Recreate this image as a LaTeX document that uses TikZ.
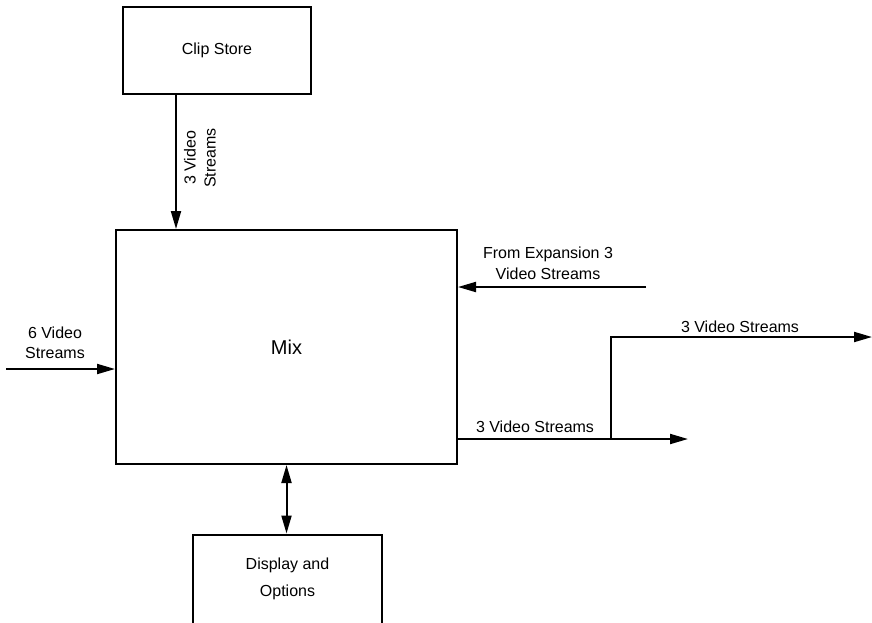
\documentclass[tikz,border=0pt]{standalone}
\usepackage{fontspec}
\setmainfont{Liberation Sans}
\usetikzlibrary{arrows.meta}

\begin{document}
\begin{tikzpicture}[x=1pt, y=-1pt, line width=2pt,
    box/.style={draw, rectangle, inner sep=0pt, font=\fontsize{16}{27}\selectfont, align=center},
    lbl/.style={inner sep=0pt, font=\fontsize{16}{20}\selectfont, align=center},
    arr/.style={-{Triangle[length=18pt,width=10pt]}},
    arrs/.style={{Triangle[length=18pt,width=10pt]}-{Triangle[length=18pt,width=10pt]}}]
  \useasboundingbox (0,0) rectangle (872,622);
  % boxes
  \node[box, minimum width=188pt, minimum height=87pt] (clip) at (217,50.5) {Clip Store};
  \node[box, minimum width=341pt, minimum height=234pt, font=\fontsize{20}{24}\selectfont] (mix) at (286.5,347) {Mix};
  \node[box, minimum width=189pt, minimum height=89pt] (disp) at (287.5,579) {Display and\\Options};
  % free ends
  \coordinate (inpt) at (6,369);
  \coordinate (exp) at (646,287);
  \coordinate (outend) at (688,439);
  \coordinate (br) at (611,439);
  \coordinate (upend) at (872,337);
  % arrows
  \draw[arr] ([xshift=-41pt]clip.south) -- ([xshift=-41pt]clip.south |- mix.north);
  \draw[arr] (inpt) -- (inpt -| mix.west);
  \draw[arr] (exp) -- (exp -| mix.east);
  \draw[arr] (outend -| mix.east) -- (outend);
  \draw[arr] (br) |- (upend);
  \draw[arrs] (mix.south) -- (mix.south |- disp.north);
  % labels
  \node[lbl, rotate=90] (lclip) at (200,158) {3 Video\\Streams};
  \node[lbl] (lin) at (55,343) {6 Video\\Streams};
  \node[lbl, font=\fontsize{16}{21}\selectfont] (lexp) at (548,263) {From Expansion 3\\Video Streams};
  \node[lbl] (lout) at (535,427) {3 Video Streams};
  \node[lbl] (lup) at (740,327) {3 Video Streams};
\end{tikzpicture}
\end{document}
